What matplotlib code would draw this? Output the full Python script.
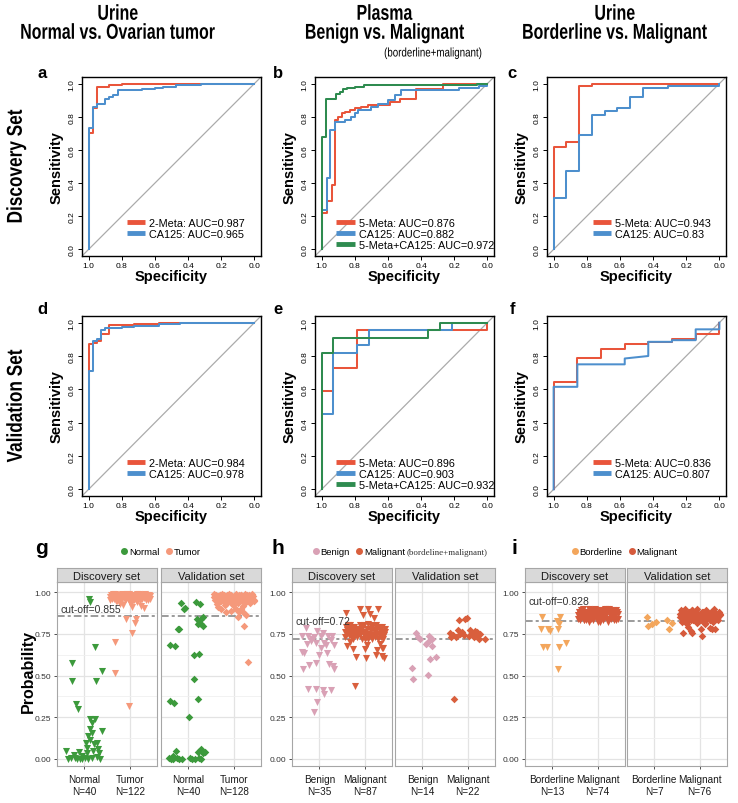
import numpy as np
import matplotlib
matplotlib.use('Agg')
import matplotlib.pyplot as plt
from matplotlib.lines import Line2D
from matplotlib.textpath import TextPath
from matplotlib.patches import PathPatch
from matplotlib.font_manager import FontProperties
from matplotlib.transforms import Affine2D

plt.rcParams['font.family'] = ['Liberation Sans', 'DejaVu Sans']

W, H = 738, 804

# --- ROC data (specificity, sensitivity) ---
RED, BLUE, GREEN = '#E9553B', '#4D8FCD', '#2E8B4F'

a_meta_spec = [1, 1, 0.975, 0.975, 0.95, 0.95, 0.875, 0.875, 0.80, 0.80, 0]
a_meta_sens = [0, 0.70, 0.70, 0.85, 0.85, 0.98, 0.98, 0.99, 0.99, 1.0, 1.0]
a_ca_spec = [1, 1, 0.975, 0.975, 0.95, 0.95, 0.90, 0.90, 0.875, 0.875, 0.85, 0.85, 0.825, 0.825,
             0.675, 0.675, 0.60, 0.60, 0.55, 0.55, 0.475, 0.475, 0.325, 0.325, 0]
a_ca_sens = [0, 0.73, 0.73, 0.86, 0.86, 0.88, 0.88, 0.91, 0.91, 0.92, 0.92, 0.93, 0.93, 0.96,
             0.96, 0.965, 0.965, 0.975, 0.975, 0.98, 0.98, 0.99, 0.99, 1.0, 1.0]

b_meta_spec = [1, 1, 0.97, 0.97, 0.94, 0.94, 0.92, 0.92, 0.90, 0.90, 0.88, 0.88, 0.86, 0.86, 0.83, 0.83,
               0.80, 0.80, 0.76, 0.76, 0.72, 0.72, 0.59, 0.59, 0.53, 0.53, 0.43, 0.43, 0.27, 0.27, 0]
b_meta_sens = [0, 0.22, 0.22, 0.29, 0.29, 0.39, 0.39, 0.78, 0.78, 0.80, 0.80, 0.82, 0.82, 0.83, 0.83, 0.84,
               0.84, 0.85, 0.85, 0.86, 0.86, 0.87, 0.87, 0.89, 0.89, 0.91, 0.91, 0.97, 0.97, 1.0, 1.0]
b_ca_spec = [1, 1, 0.97, 0.97, 0.95, 0.95, 0.92, 0.92, 0.86, 0.86, 0.82, 0.82, 0.80, 0.80, 0.78, 0.78,
             0.70, 0.70, 0.66, 0.66, 0.60, 0.60, 0.56, 0.56, 0.52, 0.52, 0.17, 0.17, 0.05, 0.05, 0, 0]
b_ca_sens = [0, 0.24, 0.24, 0.43, 0.43, 0.72, 0.72, 0.77, 0.77, 0.78, 0.78, 0.80, 0.80, 0.82, 0.82, 0.84,
             0.84, 0.86, 0.86, 0.88, 0.88, 0.90, 0.90, 0.93, 0.93, 0.96, 0.96, 0.975, 0.975, 0.985, 0.985, 1.0]
b_comb_spec = [1, 1, 0.975, 0.975, 0.915, 0.915, 0.89, 0.89, 0.87, 0.87, 0.845, 0.845, 0.80, 0.80,
               0.745, 0.745, 0.065, 0.065, 0]
b_comb_sens = [0, 0.68, 0.68, 0.91, 0.91, 0.94, 0.94, 0.95, 0.95, 0.965, 0.965, 0.975, 0.975, 0.98,
               0.98, 0.99, 0.99, 1.0, 1.0]

c_meta_spec = [1, 1, 0.923, 0.923, 0.846, 0.846, 0.769, 0.769, 0]
c_meta_sens = [0, 0.62, 0.62, 0.65, 0.65, 0.985, 0.985, 1.0, 1.0]
c_ca_spec = [1, 1, 0.923, 0.923, 0.846, 0.846, 0.769, 0.769, 0.692, 0.692, 0.615, 0.615, 0.538, 0.538,
             0.462, 0.462, 0.308, 0.308, 0, 0]
c_ca_sens = [0, 0.31, 0.31, 0.475, 0.475, 0.69, 0.69, 0.81, 0.81, 0.835, 0.835, 0.85, 0.85, 0.92,
             0.92, 0.975, 0.975, 0.985, 0.985, 1.0]

d_meta_spec = [1, 1, 0.975, 0.975, 0.95, 0.95, 0.925, 0.925, 0.875, 0.875, 0.725, 0.725, 0.575, 0.575, 0]
d_meta_sens = [0, 0.875, 0.875, 0.88, 0.88, 0.89, 0.89, 0.93, 0.93, 0.985, 0.985, 0.99, 0.99, 1.0, 1.0]
d_ca_spec = [1, 1, 0.975, 0.975, 0.95, 0.95, 0.925, 0.925, 0.90, 0.90, 0.80, 0.80, 0.725, 0.725,
             0.575, 0.575, 0.45, 0.45, 0]
d_ca_sens = [0, 0.71, 0.71, 0.89, 0.89, 0.90, 0.90, 0.955, 0.955, 0.97, 0.97, 0.975, 0.975, 0.98,
             0.98, 0.99, 0.99, 1.0, 1.0]

e_meta_spec = [1, 1, 0.929, 0.929, 0.786, 0.786, 0, 0]
e_meta_sens = [0, 0.59, 0.59, 0.727, 0.727, 0.955, 0.955, 1.0]
e_ca_spec = [1, 1, 0.929, 0.929, 0.786, 0.786, 0.714, 0.714, 0.214, 0.214, 0]
e_ca_sens = [0, 0.455, 0.455, 0.818, 0.818, 0.864, 0.864, 0.955, 0.955, 1.0, 1.0]
e_comb_spec = [1, 1, 0.929, 0.929, 0.357, 0.357, 0.286, 0.286, 0]
e_comb_sens = [0, 0.818, 0.818, 0.909, 0.909, 0.955, 0.955, 1.0, 1.0]

f_meta_spec = [1, 1, 0.857, 0.857, 0.714, 0.714, 0.571, 0.571, 0.429, 0.429, 0.286, 0.286, 0.143, 0.143, 0, 0]
f_meta_sens = [0, 0.645, 0.645, 0.79, 0.79, 0.84, 0.84, 0.87, 0.87, 0.885, 0.885, 0.90, 0.90, 0.935, 0.935, 1.0]
f_ca_spec = [1, 1, 0.857, 0.857, 0.571, 0.571, 0.429, 0.429, 0.286, 0.286, 0.143, 0.143, 0, 0]
f_ca_sens = [0, 0.615, 0.615, 0.75, 0.75, 0.785, 0.80, 0.885, 0.885, 0.895, 0.895, 0.96, 0.96, 1.0]

# --- probability scatter data (jitter offset, probability) ---
dense_dx = [-0.44, -0.41, -0.38, -0.35, -0.32, -0.29, -0.26, -0.23, -0.20, -0.17, -0.14, -0.11, -0.08,
            -0.05, -0.02, 0.01, 0.04, 0.07, 0.10, 0.13, 0.16, 0.19, 0.22, 0.25, 0.28, 0.31, 0.34, 0.37,
            0.40, 0.43, 0.45, -0.30,
            -0.43, -0.40, -0.37, -0.34, -0.31, -0.28, -0.25, -0.22, -0.19, -0.16, -0.13, -0.10, -0.07,
            -0.04, -0.01, 0.02, 0.05, 0.08, 0.11, 0.14, 0.17, 0.20, 0.23, 0.26, 0.29, 0.32, 0.35, 0.38,
            0.41, 0.44, 0.00, 0.15]

gd_norm_dx = [0.11, 0.13, -0.28, 0.23, -0.26, 0.38, 0.26, -0.18, -0.13, 0.12, 0.23, 0.16, 0.12, 0.40,
              0.09, 0.12, 0.21, 0.05, 0.31, -0.40, -0.30, -0.20, -0.11, -0.06, 0.01, 0.07, 0.16, 0.27,
              0.33, -0.04, -0.15, -0.35, 0.20, 0.09, -0.10, -0.23, 0.04, 0.28, 0.17, 0.34]
gd_norm_p = [0.956, 0.94, 0.577, 0.673, 0.467, 0.527, 0.467, 0.327, 0.297, 0.24, 0.24, 0.218, 0.178,
             0.168, 0.138, 0.114, 0.088, 0.068, 0.058, 0.048, 0.008, 0.008, 0.042, 0.018, 0.008, 0.034,
             0.008, 0.012, 0.038, 0.0, 0.0, 0.002, 0.05, 0.002, 0.0, 0.026, 0.098, 0.098, 0.154, 0.002]
gd_tum_dx = dense_dx + [-0.09, 0.13, 0.11, 0.06, -0.33, -0.33, -0.01, 0.31, 0.04, -0.22, -0.15, 0.25]
gd_tum_p = [0.97, 0.985, 0.96, 0.975, 0.99, 0.965, 0.98, 0.955, 0.975, 0.99, 0.97, 0.985, 0.96, 0.98,
            0.99, 0.965, 0.975, 0.985, 0.95, 0.97, 0.99, 0.96, 0.98, 0.975, 0.985, 0.965, 0.99, 0.97,
            0.955, 0.98, 0.975, 0.945,
            0.95, 0.975, 0.99, 0.96, 0.98, 0.945, 0.97, 0.985, 0.955, 0.965, 0.98, 0.95, 0.99, 0.96,
            0.975, 0.985, 0.94, 0.97, 0.98, 0.955, 0.965, 0.99, 0.945, 0.96, 0.975, 0.98, 0.95, 0.985,
            0.97, 0.96, 0.935, 0.94] + [0.836, 0.836, 0.816, 0.752, 0.70, 0.517, 0.317, 0.906, 0.912,
                                        0.926, 0.92, 0.915]

gv_norm_dx = [-0.16, -0.10, -0.07, 0.17, 0.26, 0.33, 0.28, 0.24, 0.28, 0.22, -0.20, -0.22, -0.40, -0.29,
              0.12, 0.24, 0.12, 0.22, -0.40, -0.32, 0.02, -0.27, -0.42, -0.33, -0.24, -0.14, 0.04, 0.15,
              0.28, 0.22, 0.28, 0.37, -0.33, 0.24, 0.19, 0.32, -0.20, 0.08, -0.38, 0.32]
gv_norm_p = [0.936, 0.896, 0.906, 0.94, 0.926, 0.852, 0.836, 0.816, 0.806, 0.806, 0.78, 0.776, 0.685,
             0.677, 0.625, 0.631, 0.481, 0.361, 0.347, 0.333, 0.253, 0.046, 0.006, 0.002, 0.006, 0.002,
             0.006, 0.002, 0.002, 0.042, 0.058, 0.042, 0.018, 0.008, 0.836, 0.796, 0.0, 0.002, 0.0, 0.034]
gv_tum_dx = dense_dx + [-0.17, -0.06, 0.11, 0.20, 0.10, 0.22, 0.31, -0.28, 0.04, 0.16, -0.35, 0.28]
gv_tum_p = [0.97, 0.95, 0.985, 0.96, 0.94, 0.975, 0.99, 0.955, 0.97, 0.93, 0.98, 0.96, 0.945, 0.985,
            0.97, 0.95, 0.99, 0.96, 0.935, 0.975, 0.98, 0.95, 0.965, 0.99, 0.94, 0.97, 0.985, 0.955,
            0.96, 0.975, 0.945, 0.98,
            0.99, 0.96, 0.93, 0.975, 0.985, 0.945, 0.96, 0.98, 0.92, 0.955, 0.97, 0.99, 0.94, 0.96,
            0.925, 0.98, 0.95, 0.97, 0.985, 0.945, 0.96, 0.915, 0.975, 0.95, 0.985, 0.96, 0.935, 0.97,
            0.99, 0.95, 0.965, 0.98] + [0.878, 0.888, 0.878, 0.878, 0.852, 0.798, 0.579, 0.898, 0.898,
                                        0.898, 0.91, 0.86]

hd_ben_dx = [-0.30, -0.39, -0.24, -0.11, -0.04, 0.04, 0.09, 0.20, 0.28, 0.33, 0.26, -0.07, 0.11, -0.37,
             -0.33, 0.16, -0.22, -0.07, -0.36, 0.30, 0.33, 0.22, -0.24, -0.07, 0.09, 0.26, 0.11, -0.04,
             -0.11, -0.19, 0.15, -0.27, 0.04, -0.15, 0.0]
hd_ben_p = [0.784, 0.739, 0.735, 0.731, 0.766, 0.735, 0.756, 0.739, 0.739, 0.681, 0.715, 0.697, 0.697,
            0.641, 0.633, 0.633, 0.561, 0.577, 0.537, 0.557, 0.541, 0.567, 0.417, 0.417, 0.413, 0.413,
            0.387, 0.341, 0.281, 0.707, 0.681, 0.687, 0.667, 0.72, 0.62]
hd_mal_dx = dense_dx + [-0.41, -0.11, 0.07, 0.30, -0.04, 0.21, -0.39, -0.26, 0.0, 0.26, 0.39, -0.20,
                        0.02, 0.24, 0.37, 0.42, 0.41, -0.22, 0.12, -0.32, 0.33, 0.05]
hd_mal_p = [0.76, 0.79, 0.75, 0.78, 0.80, 0.77, 0.74, 0.79, 0.76, 0.78, 0.75, 0.80, 0.77, 0.79, 0.74,
            0.76, 0.78, 0.81, 0.75, 0.77, 0.79, 0.74, 0.76, 0.80, 0.78, 0.75, 0.77, 0.79, 0.76, 0.74,
            0.78, 0.73,
            0.73, 0.77, 0.80, 0.74, 0.76, 0.79, 0.72, 0.75, 0.78, 0.73, 0.77, 0.74, 0.72, 0.76, 0.80,
            0.73, 0.75, 0.72, 0.78, 0.74, 0.72, 0.77, 0.73, 0.75, 0.72, 0.79, 0.73, 0.75, 0.72, 0.76,
            0.72, 0.80] + [0.876, 0.896, 0.896, 0.896, 0.86, 0.846, 0.677, 0.661, 0.657, 0.653, 0.667,
                           0.613, 0.607, 0.621, 0.617, 0.607, 0.667, 0.437, 0.87, 0.70, 0.69, 0.68]

hv_ben_dx = [-0.13, -0.09, -0.04, 0.10, 0.15, 0.21, 0.21, 0.17, 0.30, -0.22, -0.21, 0.13, 0.08, 0.16]
hv_ben_p = [0.752, 0.733, 0.717, 0.697, 0.737, 0.717, 0.677, 0.601, 0.613, 0.547, 0.477, 0.503, 0.687, 0.71]
hv_mal_dx = [-0.39, -0.33, -0.20, -0.05, -0.26, -0.18, -0.09, 0.06, 0.10, 0.13, 0.21, 0.23, -0.31, 0.39,
             -0.02, -0.12, 0.28, 0.16, -0.36, 0.02, -0.22, 0.25]
hv_mal_p = [0.756, 0.741, 0.832, 0.840, 0.733, 0.751, 0.741, 0.772, 0.752, 0.731, 0.760, 0.741, 0.361,
            0.717, 0.845, 0.76, 0.75, 0.765, 0.73, 0.735, 0.77, 0.72]

id_bor_dx = [-0.22, 0.17, -0.24, -0.09, -0.05, 0.13, 0.11, -0.20, -0.12, 0.15, 0.31, 0.13, 0.15]
id_bor_p = [0.852, 0.852, 0.78, 0.78, 0.766, 0.78, 0.826, 0.673, 0.673, 0.673, 0.693, 0.537, 0.806]
id_mal_dx = dense_dx + [-0.38, -0.20, 0.05, 0.30, 0.40, -0.10, 0.15, 0.35, -0.30, 0.22]
id_mal_p = [0.86, 0.88, 0.84, 0.87, 0.90, 0.85, 0.83, 0.88, 0.86, 0.89, 0.84, 0.87, 0.85, 0.90, 0.86,
            0.88, 0.83, 0.87, 0.89, 0.85, 0.86, 0.88, 0.84, 0.90, 0.87, 0.85, 0.89, 0.86, 0.84, 0.88,
            0.87, 0.83,
            0.84, 0.87, 0.89, 0.85, 0.83, 0.88, 0.86, 0.84, 0.90, 0.87, 0.85, 0.83, 0.88, 0.86, 0.84,
            0.89, 0.87, 0.85, 0.83, 0.88, 0.86, 0.90, 0.84, 0.87, 0.85, 0.88, 0.83, 0.86, 0.89, 0.84,
            0.82, 0.85] + [0.83, 0.82, 0.82, 0.84, 0.83, 0.89, 0.90, 0.87, 0.86, 0.82]

iv_bor_dx = [-0.15, -0.13, -0.06, 0.04, 0.28, 0.40, 0.33]
iv_bor_p = [0.852, 0.796, 0.806, 0.82, 0.83, 0.812, 0.776]
iv_mal_dx = dense_dx + [-0.37, -0.20, -0.26, 0.02, 0.05, 0.22, 0.33, -0.07, -0.29, 0.11, 0.28, -0.18]
iv_mal_p = [0.87, 0.89, 0.85, 0.88, 0.90, 0.86, 0.84, 0.88, 0.87, 0.89, 0.83, 0.86, 0.88, 0.90, 0.85,
            0.87, 0.84, 0.88, 0.86, 0.89, 0.85, 0.87, 0.83, 0.88, 0.86, 0.90, 0.84, 0.87, 0.85, 0.88,
            0.86, 0.82,
            0.85, 0.82, 0.88, 0.84, 0.86, 0.81, 0.87, 0.85, 0.83, 0.89, 0.86, 0.84, 0.82, 0.87, 0.85,
            0.83, 0.88, 0.86, 0.81, 0.84, 0.87, 0.85, 0.83, 0.86, 0.82, 0.88, 0.84, 0.85, 0.83, 0.87,
            0.84, 0.86] + [0.752, 0.766, 0.79, 0.78, 0.737, 0.786, 0.78, 0.812, 0.82, 0.816, 0.78, 0.755]

G_NORM, G_TUM = '#3C9A3C', '#F5997B'
H_BEN, H_MAL = '#D9A1B5', '#D95F3D'
I_BOR, I_MAL = '#F3A65C', '#D65A3C'


def px_box(x0, y0, x1, y1):
    return [x0 / W, 1 - y1 / H, (x1 - x0) / W, (y1 - y0) / H]


fig = plt.figure(figsize=(W / 100, H / 100), dpi=100)


def narrow_text(x_px, y_px, s, size, squeeze, weight='bold', rotation=0):
    # Helvetica Condensed stand-in: squeeze a normal glyph path horizontally
    fp = FontProperties(family='Liberation Sans', weight=weight)
    tp = TextPath((0, 0), s, size=size, prop=fp)
    bb = tp.get_extents()
    cx = (bb.x0 + bb.x1) / 2
    cy = 0.36 * size
    tr = (Affine2D().translate(-cx, -cy).scale(squeeze / 72, 1 / 72).rotate_deg(rotation)
          .translate(x_px / 100, (H - y_px) / 100) + fig.dpi_scale_trans)
    fig.add_artist(PathPatch(tp, transform=tr, facecolor='black', lw=0))


def draw_roc(box, curves, leg_anchor):
    ax = fig.add_axes(px_box(*box))
    ax.axline((1, 0), (0, 1), color='#ABABAB', lw=0.9, zorder=1)
    for spec, sens, lab, col in curves:
        ax.plot(spec, sens, color=col, lw=1.45, label=lab)
    ax.set_xlim(1.04, -0.04)
    ax.set_ylim(-0.04, 1.04)
    ticks = [0, 0.2, 0.4, 0.6, 0.8, 1.0]
    ax.set_xticks(ticks)
    ax.set_yticks(ticks)
    ax.set_xticklabels([f'{t:.1f}' for t in ticks])
    ax.set_yticklabels([f'{t:.1f}' for t in ticks], rotation=90, va='center')
    ax.tick_params(direction='out', length=3, width=0.7, labelsize=6, pad=1.5)
    for sp in ax.spines.values():
        sp.set_linewidth(1.0)
    ax.set_xlabel('Specificity', fontsize=10.5, fontweight='bold', labelpad=0)
    ax.set_ylabel('Sensitivity', fontsize=10.5, fontweight='bold', labelpad=4)
    leg = ax.legend(loc='lower left', bbox_to_anchor=leg_anchor, frameon=False, fontsize=7.8,
                    handlelength=1.7, handletextpad=0.35, labelspacing=0.1, borderpad=0,
                    borderaxespad=0)
    for line in leg.get_lines():
        line.set_linewidth(3.5)
        line.set_solid_capstyle('butt')
    return ax


def draw_facet(box, strip_label, groups, cut, cut_label, cut_y, show_y, marker, size):
    x0, y0, x1, y1 = box
    ax = fig.add_axes(px_box(x0, y0, x1, y1))
    sax = fig.add_axes(px_box(x0, y0 - 14, x1, y0))
    sax.set_facecolor('#D9D9D9')
    sax.set_xticks([])
    sax.set_yticks([])
    for sp in sax.spines.values():
        sp.set_color('#A6A6A6')
        sp.set_linewidth(0.8)
    sax.text(0.5, 0.42, strip_label, ha='center', va='center', fontsize=8, color='#1A1A1A',
             transform=sax.transAxes)

    ax.set_xlim(0.4, 2.6)
    ax.set_ylim(-0.042, 1.06)
    ax.set_yticks([0, 0.25, 0.5, 0.75, 1.0])
    ax.set_yticks([0.125, 0.375, 0.625, 0.875], minor=True)
    ax.set_xticks([1, 2])
    ax.grid(which='major', color='#E3E3E3', lw=0.9)
    ax.grid(which='minor', axis='y', color='#F0F0F0', lw=0.6)
    ax.set_axisbelow(True)
    ax.axhline(cut, color='#808080', lw=1.1, dashes=(5, 2, 2, 2), zorder=2)
    labels = []
    for i, (dx, p, col, name, n) in enumerate(groups):
        ax.scatter(np.add(i + 1, dx), p, marker=marker, s=size, color=col, lw=0, zorder=3)
        labels.append(f'{name}\nN={n}')
    ax.set_xticklabels(labels, fontsize=7.2, linespacing=1.35)
    ax.tick_params(axis='x', length=2.5, width=0.6, color='#333333', pad=3, labelcolor='#1A1A1A')
    ax.tick_params(axis='y', which='minor', length=0)
    if show_y:
        ax.set_yticklabels(['0.00', '0.25', '0.50', '0.75', '1.00'])
        ax.tick_params(axis='y', which='major', length=2.5, width=0.6, color='#333333', pad=1.5,
                       labelsize=6, labelcolor='#333333')
    else:
        ax.tick_params(axis='y', which='major', length=0, labelleft=False)
    for sp in ax.spines.values():
        sp.set_color('#A6A6A6')
        sp.set_linewidth(0.8)
    if cut_label:
        ax.text(0.48, cut_y, cut_label, fontsize=7.5, color='#333333', ha='left', va='center')
    return ax


# --- ROC panels ---
draw_roc((82, 78, 261, 257),
         [(a_meta_spec, a_meta_sens, '2-Meta: AUC=0.987', RED),
          (a_ca_spec, a_ca_sens, 'CA125: AUC=0.965', BLUE)], (0.25, 0.095))
draw_roc((315, 78, 494, 257),
         [(b_meta_spec, b_meta_sens, '5-Meta: AUC=0.876', RED),
          (b_ca_spec, b_ca_sens, 'CA125: AUC=0.882', BLUE),
          (b_comb_spec, b_comb_sens, '5-Meta+CA125: AUC=0.972', GREEN)], (0.12, 0.034))
draw_roc((547, 78, 726, 257),
         [(c_meta_spec, c_meta_sens, '5-Meta: AUC=0.943', RED),
          (c_ca_spec, c_ca_sens, 'CA125: AUC=0.83', BLUE)], (0.255, 0.095))
draw_roc((82, 317, 261, 497),
         [(d_meta_spec, d_meta_sens, '2-Meta: AUC=0.984', RED),
          (d_ca_spec, d_ca_sens, 'CA125: AUC=0.978', BLUE)], (0.25, 0.095))
draw_roc((315, 317, 494, 497),
         [(e_meta_spec, e_meta_sens, '5-Meta: AUC=0.896', RED),
          (e_ca_spec, e_ca_sens, 'CA125: AUC=0.903', BLUE),
          (e_comb_spec, e_comb_sens, '5-Meta+CA125: AUC=0.932', GREEN)], (0.12, 0.034))
draw_roc((547, 317, 726, 497),
         [(f_meta_spec, f_meta_sens, '5-Meta: AUC=0.836', RED),
          (f_ca_spec, f_ca_sens, 'CA125: AUC=0.807', BLUE)], (0.255, 0.095))

# --- probability panels ---
TRI, TRI_S = 'v', 26
DIA, DIA_S = 'D', 15
draw_facet((57, 583, 157, 767), 'Discovery set',
           [(gd_norm_dx, gd_norm_p, G_NORM, 'Normal', 40), (gd_tum_dx, gd_tum_p, G_TUM, 'Tumor', 122)],
           0.855, 'cut-off=0.855', 0.90, True, TRI, TRI_S)
draw_facet((161, 583, 261, 767), 'Validation set',
           [(gv_norm_dx, gv_norm_p, G_NORM, 'Normal', 40), (gv_tum_dx, gv_tum_p, G_TUM, 'Tumor', 128)],
           0.855, None, 0, False, DIA, DIA_S)
draw_facet((292, 583, 392, 767), 'Discovery set',
           [(hd_ben_dx, hd_ben_p, H_BEN, 'Benign', 35), (hd_mal_dx, hd_mal_p, H_MAL, 'Malignant', 87)],
           0.72, 'cut-off=0.72', 0.826, True, TRI, TRI_S)
draw_facet((395, 583, 495, 767), 'Validation set',
           [(hv_ben_dx, hv_ben_p, H_BEN, 'Benign', 14), (hv_mal_dx, hv_mal_p, H_MAL, 'Malignant', 22)],
           0.72, None, 0, False, DIA, DIA_S)
draw_facet((525, 583, 625, 767), 'Discovery set',
           [(id_bor_dx, id_bor_p, I_BOR, 'Borderline', 13), (id_mal_dx, id_mal_p, I_MAL, 'Malignant', 74)],
           0.828, 'cut-off=0.828', 0.946, True, TRI, TRI_S)
draw_facet((627, 583, 727, 767), 'Validation set',
           [(iv_bor_dx, iv_bor_p, I_BOR, 'Borderline', 7), (iv_mal_dx, iv_mal_p, I_MAL, 'Malignant', 76)],
           0.828, None, 0, False, DIA, DIA_S)


def top_legend(names, colors, cx, loc='center'):
    handles = [Line2D([], [], marker='o', ls='', color=c, markersize=4, label=n)
               for n, c in zip(names, colors)]
    fig.legend(handles=handles, loc=loc, bbox_to_anchor=(cx / W, 1 - 553 / H), ncol=len(names),
               frameon=False, fontsize=6.8, handletextpad=0.0, columnspacing=0.5, borderpad=0,
               handlelength=1.0, borderaxespad=0)


top_legend(['Normal', 'Tumor'], [G_NORM, G_TUM], 160)
top_legend(['Benign', 'Malignant'], [H_BEN, H_MAL], 405, loc='center right')
fig.text(407 / W, 1 - 553 / H, '(bordeline+malignant)', fontsize=6.5, va='center', ha='left',
         family=['Liberation Serif', 'DejaVu Serif'], color='#333333')
top_legend(['Borderline', 'Malignant'], [I_BOR, I_MAL], 624)

# --- titles and labels ---
for cx, t1, t2 in [(118, 'Urine', 'Normal vs. Ovarian tumor'),
                   (385, 'Plasma', 'Benign vs. Malignant'),
                   (615, 'Urine', 'Borderline vs. Malignant')]:
    narrow_text(cx, 13, t1, 15.5, 0.74)
    narrow_text(cx, 32, t2, 15.5, 0.74)
narrow_text(433, 53, '(borderline+malignant)', 9, 0.78, weight='normal')

narrow_text(14, 167, 'Discovery Set', 15.5, 0.8, rotation=90)
narrow_text(14, 407, 'Validation Set', 15.5, 0.8, rotation=90)
fig.text(28 / W, 1 - 672 / H, 'Probability', rotation=90, ha='center', va='center', fontsize=11.5,
         fontweight='bold')

for lx, ly, letter, fs in [(42, 73, 'a', 12), (278, 73, 'b', 12), (512, 73, 'c', 12),
                           (42, 310, 'd', 12), (278, 310, 'e', 12), (512, 310, 'f', 12),
                           (42, 549, 'g', 15), (278, 549, 'h', 15), (514, 549, 'i', 15)]:
    fig.text(lx / W, 1 - ly / H, letter, ha='center', va='center', fontsize=fs, fontweight='bold')

fig.savefig('out.png', dpi=100)
